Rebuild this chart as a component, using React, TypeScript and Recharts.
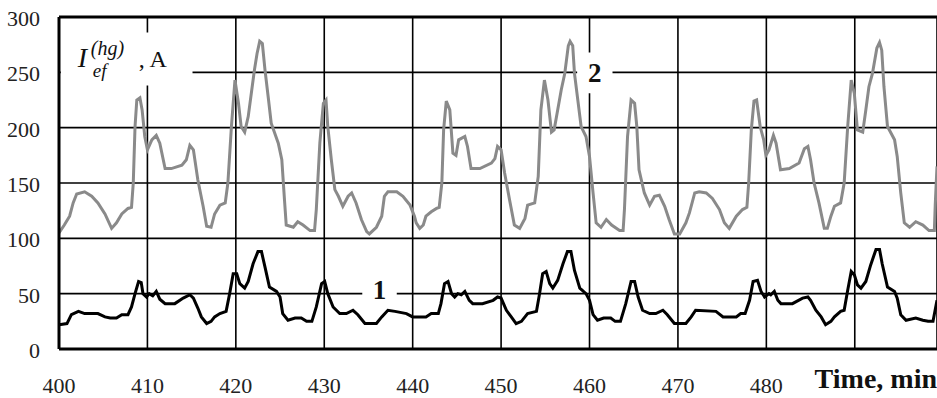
import {
  CartesianGrid,
  Line,
  LineChart,
  ReferenceArea,
  ReferenceLine,
  XAxis,
  YAxis,
} from "recharts"

// Effective current over time.
const xTicks = [400, 410, 420, 430, 440, 450, 460, 470, 480, 490]
const yTicks = [0, 50, 100, 150, 200, 250, 300]

// curve 2 (gray)
const grayTime = [
  400.0, 400.6, 401.2, 401.6, 402.0, 402.9, 403.7, 404.4, 405.2, 405.95, 406.5, 407.1, 407.8, 408.2,
  408.4, 408.6, 408.8, 409.15, 409.4, 409.7, 410.0, 410.5, 411.0, 411.4, 412.0, 412.7, 413.9, 414.4,
  414.8, 415.2, 415.7, 416.3, 416.7, 417.2, 417.6, 418.2, 418.8, 419.1, 419.5, 419.9, 420.3, 420.6,
  421.0, 421.4, 421.8, 422.1, 422.4, 422.7, 423.0, 423.3, 423.7, 424.0, 424.8, 425.2, 425.5, 425.7,
  426.5, 427.0, 427.6, 428.4, 428.9, 429.1, 429.5, 429.9, 430.2, 430.4, 430.8, 431.2, 431.6, 432.1,
  432.7, 433.1, 433.6, 434.2, 434.8, 435.1, 435.9, 436.5, 436.8, 437.2, 438.2, 438.9, 439.7, 440.2,
  440.4, 440.8, 441.2, 441.5, 442.1, 442.7, 443.0, 443.3, 443.5, 443.8, 444.2, 444.55, 444.9, 445.2,
  445.9, 446.2, 446.6, 447.6, 448.9, 449.3, 449.6, 450.0, 450.4, 450.95, 451.5, 452.1, 452.7, 453.0,
  453.8, 454.2, 454.5, 454.9, 455.3, 455.7, 456.0, 456.4, 456.8, 457.2, 457.6, 457.8, 458.1, 458.3,
  459.05, 459.6, 460.0, 460.4, 460.75, 461.3, 461.9, 462.5, 463.4, 463.8, 463.95, 464.3, 464.7, 465.1,
  465.35, 465.6, 466.2, 466.8, 467.35, 467.9, 468.5, 469.0, 469.6, 470.2, 470.9, 471.3, 471.9, 472.4,
  473.2, 473.9, 474.7, 475.25, 475.8, 476.6, 477.3, 477.8, 478.0, 478.3, 478.6, 478.9, 479.3, 479.7,
  479.95, 480.3, 480.8, 481.1, 481.6, 482.6, 483.7, 484.3, 484.7, 485.0, 485.4, 485.95, 486.55, 486.9,
  487.3, 487.7, 488.4, 488.8, 489.2, 489.6, 489.95, 490.3, 490.9, 491.25, 491.6, 492.0, 492.5, 492.8,
  493.05, 493.3, 493.7, 494.5, 494.8, 495.2, 495.6, 496.2, 496.9, 497.7, 498.4, 499.0, 499.1, 499.3,
]
const grayAmp = [
  105, 112, 120, 132, 140, 142, 138, 132, 122, 109, 114, 122, 127, 128,
  150, 201, 225, 227, 216, 192, 180, 189, 193, 186, 163, 163, 166, 171,
  184, 180, 153, 129, 111, 110, 122, 130, 132, 150, 201, 243, 222, 201,
  196, 210, 234, 252, 267, 278, 276, 252, 225, 204, 186, 171, 135, 112,
  110, 115, 112, 107, 107, 126, 186, 222, 225, 201, 171, 144, 138, 129,
  138, 141, 132, 117, 106, 104, 110, 120, 138, 142, 142, 138, 130, 120,
  114, 109, 112, 120, 124, 127, 128, 150, 198, 224, 216, 177, 175, 189,
  192, 183, 163, 163, 168, 172, 183, 180, 159, 135, 112, 109, 118, 130,
  132, 156, 216, 243, 225, 196, 198, 216, 234, 249, 274, 278, 274, 249,
  201, 192, 174, 141, 114, 110, 117, 112, 107, 107, 126, 192, 225, 222,
  201, 162, 141, 130, 138, 139, 129, 117, 104, 104, 114, 123, 141, 142,
  141, 136, 126, 114, 109, 120, 126, 128, 150, 198, 224, 225, 201, 189,
  175, 180, 193, 186, 162, 163, 168, 181, 183, 171, 150, 132, 109, 109,
  120, 129, 132, 150, 201, 243, 231, 198, 196, 216, 237, 249, 272, 277,
  270, 237, 201, 189, 174, 141, 114, 110, 115, 112, 107, 107, 130, 165,
]

// curve 1 (black)
const blackTime = [
  400.0, 400.9, 401.4, 402.2, 402.9, 404.4, 405.2, 405.8, 406.5, 407.1, 407.8, 408.2, 408.6, 409.0,
  409.3, 409.5, 409.9, 410.2, 410.6, 411.0, 411.4, 412.0, 413.1, 414.05, 414.8, 415.2, 415.7, 416.1,
  416.7, 417.2, 417.6, 418.2, 418.9, 419.3, 419.7, 420.1, 420.45, 421.0, 421.4, 421.95, 422.5, 422.9,
  423.3, 423.8, 424.6, 425.0, 425.3, 425.9, 426.7, 427.4, 428.0, 428.6, 429.1, 429.7, 430.05, 430.4,
  431.0, 431.75, 432.5, 433.25, 433.8, 434.6, 435.9, 436.5, 437.2, 438.0, 439.3, 440.0, 441.5, 442.1,
  442.9, 443.2, 443.6, 444.0, 444.4, 444.75, 445.1, 445.5, 445.9, 446.4, 446.8, 447.9, 449.1, 449.6,
  450.0, 450.6, 451.15, 451.7, 452.3, 452.7, 453.0, 454.0, 454.35, 454.7, 455.1, 455.5, 455.85, 456.4,
  457.0, 457.5, 457.9, 458.3, 458.9, 459.6, 460.0, 460.4, 460.9, 461.6, 462.4, 462.9, 463.5, 464.1,
  464.7, 465.1, 465.5, 466.0, 466.8, 467.5, 468.3, 468.8, 469.6, 470.9, 471.5, 472.0, 474.3, 475.1,
  476.6, 477.1, 477.6, 478.1, 478.5, 479.0, 479.4, 479.8, 480.3, 480.5, 480.9, 481.3, 481.65, 482.95,
  484.1, 484.7, 485.0, 485.6, 486.2, 486.7, 487.3, 487.7, 488.4, 488.8, 489.2, 489.6, 489.95, 490.3,
  490.7, 491.25, 491.8, 492.4, 492.8, 493.1, 493.7, 494.5, 494.8, 495.2, 495.8, 496.9, 497.7, 498.3,
  498.85, 499.3,
]
const blackAmp = [
  22, 23, 31, 34, 32, 32, 29, 28, 28, 31, 31, 38, 50, 61,
  60, 50, 47, 50, 48, 52, 45, 41, 41, 46, 49, 46, 37, 29,
  23, 25, 29, 32, 34, 50, 68, 68, 59, 55, 61, 77, 88, 88,
  74, 56, 52, 47, 32, 26, 28, 28, 25, 25, 38, 59, 61, 50,
  38, 32, 32, 35, 31, 23, 23, 29, 35, 34, 32, 29, 29, 32,
  32, 41, 59, 61, 50, 47, 50, 49, 52, 44, 41, 41, 44, 47,
  46, 35, 29, 23, 25, 29, 32, 34, 50, 68, 70, 59, 55, 62,
  77, 88, 88, 71, 55, 50, 44, 31, 26, 28, 28, 25, 25, 41,
  61, 61, 47, 35, 32, 32, 35, 31, 23, 23, 29, 35, 34, 29,
  29, 32, 32, 44, 61, 62, 52, 47, 50, 49, 52, 44, 41, 41,
  46, 47, 44, 35, 29, 22, 25, 29, 34, 35, 53, 70, 67, 58,
  55, 61, 76, 90, 90, 77, 56, 52, 46, 31, 26, 28, 26, 25,
  25, 44,
]

const grayData = grayTime.map((time, i) => ({ time, amp: grayAmp[i] }))
const blackData = blackTime.map((time, i) => ({ time, amp: blackAmp[i] }))

const SERIF = "'Liberation Serif', 'Times New Roman', serif"
const TEXT = "#222"

function XTick({ x, y, payload }: any) {
  // 490 has no number, the axis title sits there instead
  if (payload.value === 490) return <g />
  return (
    <text x={x} y={y} dy={42} textAnchor="middle" fontFamily={SERIF} fontSize={22} fill={TEXT}>
      {payload.value}
    </text>
  )
}

function YTick({ x, y, payload }: any) {
  return (
    <text x={x} y={y} dx={-17} dy={9} textAnchor="end" fontFamily={SERIF} fontSize={22} fill={TEXT}>
      {payload.value}
    </text>
  )
}

function TimeLabel({ viewBox }: any) {
  if (!viewBox) return null
  return (
    <text
      x={viewBox.x + viewBox.width}
      y={388}
      textAnchor="end"
      fontFamily={SERIF}
      fontSize={28}
      fontWeight="bold"
      fill="#111"
    >
      Time, min
    </text>
  )
}

function AmpLabel({ viewBox }: any) {
  if (!viewBox) return null
  const { x, y } = viewBox
  return (
    <g fontFamily={SERIF} fill="#111">
      <text x={x + 17} y={y + 35} fontSize={28} fontStyle="italic">I</text>
      <text x={x + 30} y={y + 23} fontSize={20} fontStyle="italic">(hg)</text>
      <text x={x + 32} y={y + 45} fontSize={19} fontStyle="italic">ef</text>
      <text x={x + 78} y={y + 35} fontSize={24}>, A</text>
    </g>
  )
}

const curveLabel = (value: string) => ({
  value,
  position: "center" as const,
  fontFamily: SERIF,
  fontSize: 27,
  fontWeight: "bold",
  fill: "#111",
})

export default function App() {
  return (
    <div
      style={{
        position: "absolute",
        left: 0,
        top: 0,
        width: 937,
        height: 398,
        background: "#fff",
        overflow: "hidden",
      }}
    >
      <LineChart width={937} height={398} margin={{ top: 17, right: 0, bottom: 0, left: 0 }}>
        <CartesianGrid stroke="#000" strokeWidth={1.6} />
        <XAxis
          dataKey="time"
          type="number"
          domain={[400, 499.3]}
          ticks={xTicks}
          allowDataOverflow
          height={49}
          tickSize={0}
          tickLine={false}
          tick={<XTick />}
          axisLine={{ stroke: "#000", strokeWidth: 3 }}
          label={<TimeLabel />}
        />
        <YAxis
          type="number"
          domain={[0, 300]}
          ticks={yTicks}
          width={59}
          tickSize={0}
          tickLine={false}
          tick={<YTick />}
          axisLine={{ stroke: "#000", strokeWidth: 3 }}
        />
        <ReferenceLine y={300} stroke="#000" strokeWidth={3} />
        <ReferenceArea
          x1={400.2}
          x2={415.1}
          y1={238}
          y2={286}
          fill="#fff"
          fillOpacity={1}
          stroke="none"
          label={<AmpLabel />}
        />
        <ReferenceArea
          x1={434.3}
          x2={438.2}
          y1={40}
          y2={67}
          fill="#fff"
          fillOpacity={1}
          stroke="none"
          label={curveLabel("1")}
        />
        <ReferenceArea
          x1={458.6}
          x2={462.6}
          y1={231}
          y2={268}
          fill="#fff"
          fillOpacity={1}
          stroke="none"
          label={curveLabel("2")}
        />
        <Line
          data={grayData}
          dataKey="amp"
          type="linear"
          stroke="#8a8a8a"
          strokeWidth={3}
          dot={false}
          isAnimationActive={false}
        />
        <Line
          data={blackData}
          dataKey="amp"
          type="linear"
          stroke="#000"
          strokeWidth={3}
          dot={false}
          isAnimationActive={false}
        />
      </LineChart>
    </div>
  )
}
